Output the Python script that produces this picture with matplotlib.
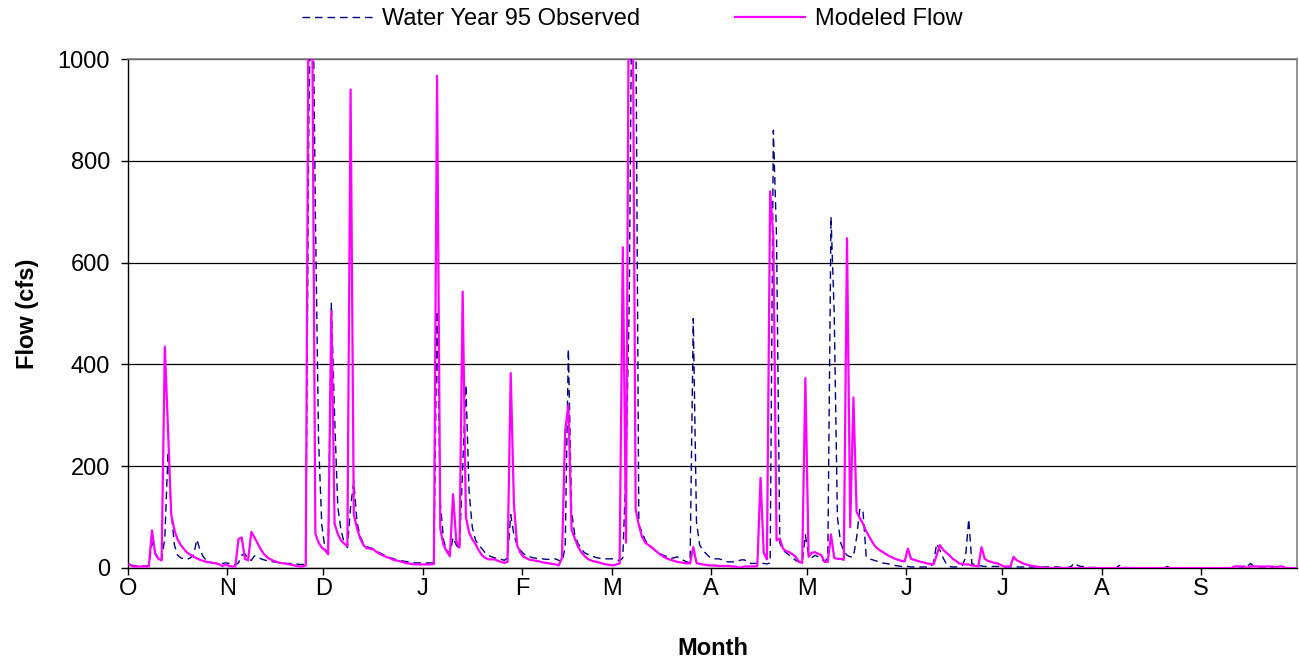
import matplotlib
matplotlib.use("Agg")
import matplotlib.pyplot as plt
import numpy as np

# ---------------- data (daily flow, cfs, water year Oct 1 - Sep 30) ----------------
month_labels = ["O", "N", "D", "J", "F", "M", "A", "M", "J", "J", "A", "S"]
month_days = [31, 30, 31, 31, 28, 31, 30, 31, 30, 31, 31, 30]

mod_oct = [7,3,3,3,3,3,3,74,28,18,15,435,270,105,74,56,45,37,30,26,22,19,16,14,12,11,10,9,7,4,7]
mod_nov = [4,3,3,57,60,18,15,71,60,48,36,27,21,17,14,12,10,9,8,7,6,4,3,3,5,1300,1100,67,50,40]
mod_dec = [35,27,505,87,67,54,48,43,940,105,78,58,45,39,38,37,32,28,25,22,20,17,15,14,12,10,9,8,7,7,7]
mod_jan = [7,7,7,8,967,77,45,33,23,145,53,40,543,100,70,56,47,35,25,20,17,17,17,14,12,10,12,383,125,45,30]
mod_feb = [22,19,16,15,14,13,11,10,9,8,7,5,20,270,320,75,58,42,31,24,18,15,13,12,10,8,7,6]
mod_mar = [5,7,9,630,50,1300,1250,115,84,61,50,45,41,35,30,25,21,18,16,14,12,11,10,9,9,41,10,8,7,6,5]
mod_apr = [5,5,4,4,4,4,3,3,1,1,3,3,3,3,4,177,30,17,740,650,54,58,38,33,31,27,22,12,10,373]
mod_may = [22,30,31,28,25,12,12,66,20,18,18,16,648,80,335,110,98,87,72,61,50,41,36,32,28,24,21,18,16,14,13]
mod_jun = [38,18,16,14,12,11,9,8,7,25,45,36,30,25,18,14,9,8,7,7,5,4,3,41,18,14,12,10,9,6]
mod_jul = [3,3,3,22,15,12,9,7,5,4,3,2,1,0,0,0,0,0,0,0,0,0,0,0,0,0,0,0,0,0,0]
mod_aug = [0,0,0,0,0,0,0,0,0,0,0,0,0,0,0,0,0,0,0,0,0,0,0,0,0,0,0,0,0,0,0]
mod_sep = [0,0,0,0,0,0,0,0,0,0,3,3,3,3,0,3,3,3,3,3,3,3,3,0,3,3,0,0,0,0]

obs_oct = [6,5,4,4,4,4,5,50,30,18,15,60,228,110,45,25,20,18,17,20,26,56,35,22,15,12,10,9,9,9,10]
obs_nov = [9,7,6,10,25,28,18,15,24,22,18,16,14,13,12,11,10,10,9,9,8,8,7,7,7,900,1300,700,250,85]
obs_dec = [38,27,520,300,120,74,50,40,120,170,90,62,48,42,40,38,34,30,27,24,21,19,17,15,14,13,12,11,10,10,10]
obs_jan = [10,10,10,10,505,130,55,35,28,60,45,38,200,360,150,80,55,45,38,30,25,22,20,18,17,15,20,105,65,45,35]
obs_feb = [28,24,22,20,19,18,18,17,17,17,18,15,12,40,430,110,65,48,38,30,27,25,22,20,19,18,18,18]
obs_mar = [18,17,14,20,200,520,1300,1150,85,70,55,45,40,35,30,27,24,22,19,20,22,18,15,12,10,490,90,45,35,28,22]
obs_apr = [18,18,18,16,13,12,12,12,14,16,16,10,9,9,9,9,9,8,10,860,650,50,35,30,25,20,15,12,10,65]
obs_may = [25,20,25,22,18,12,20,690,500,100,50,33,25,22,22,60,117,110,22,18,16,14,12,10,9,8,6,5,4,3,3]
obs_jun = [3,2,2,2,2,2,2,2,10,48,35,20,8,3,2,2,2,5,20,96,8,7,5,4,3,3,3,3,3,3]
obs_jul = [2,2,2,2,2,2,2,2,2,2,2,2,2,2,2,2,2,2,1,1,1,3,10,5,3,3,1,1,1,1,1]
obs_aug = [0,0,0,0,0,5,4,1,0,0,0,0,0,0,0,0,0,0,0,0,3,0,0,0,0,0,0,0,0,0,0]
obs_sep = [0,0,0,0,0,0,0,0,0,0,3,3,2,0,3,9,3,2,2,2,2,2,0,2,2,0,0,0,0,0]

modeled = (mod_oct + mod_nov + mod_dec + mod_jan + mod_feb + mod_mar +
           mod_apr + mod_may + mod_jun + mod_jul + mod_aug + mod_sep)
observed = (obs_oct + obs_nov + obs_dec + obs_jan + obs_feb + obs_mar +
            obs_apr + obs_may + obs_jun + obs_jul + obs_aug + obs_sep)

# ---------------- figure ----------------
plt.rcParams["font.family"] = ["Liberation Sans", "DejaVu Sans"]
W, H = 1299, 662
fig = plt.figure(figsize=(W / 100, H / 100), dpi=100)
ax = fig.add_axes([128 / W, 1 - 568 / H, (1297 - 128) / W, (568 - 59) / H])

days = np.arange(len(modeled)) + 0.5
ax.plot(days, observed, color="#000080", lw=1.0, linestyle=(0, (5.5, 3.5)),
        label="Water Year 95 Observed", zorder=3)
ax.plot(days, modeled, color="#FF00FF", lw=1.6, label="Modeled Flow", zorder=4)

total = sum(month_days)
ax.set_xlim(0, total)
ax.set_ylim(0, 1000)

starts = np.concatenate([[0], np.cumsum(month_days)[:-1]])
ax.set_xticks(starts)
ax.set_xticklabels(month_labels)
ax.set_yticks(np.arange(0, 1001, 200))

ax.yaxis.grid(True, color="black", lw=0.9)
ax.set_axisbelow(True)
for s in ["top", "right"]:
    ax.spines[s].set_color("#808080")
    ax.spines[s].set_linewidth(1.2)
for s in ["left", "bottom"]:
    ax.spines[s].set_color("black")
    ax.spines[s].set_linewidth(1.0)

fs = 17
ax.tick_params(axis="both", direction="out", length=5, width=1.0, labelsize=fs)
ax.tick_params(axis="y", pad=8)
ax.tick_params(axis="x", pad=2)

ax.set_ylabel("Flow (cfs)", fontsize=fs, fontweight="bold", labelpad=13)
ax.set_xlabel("Month", fontsize=fs, fontweight="bold", labelpad=27)

h, l = ax.get_legend_handles_labels()
fig.legend(h, l, loc="center", bbox_to_anchor=(632 / W, 1 - 19 / H), ncol=2,
           frameon=False, fontsize=fs, handlelength=3.0, handletextpad=0.4,
           columnspacing=4.0)

fig.savefig("out.png", dpi=100)
